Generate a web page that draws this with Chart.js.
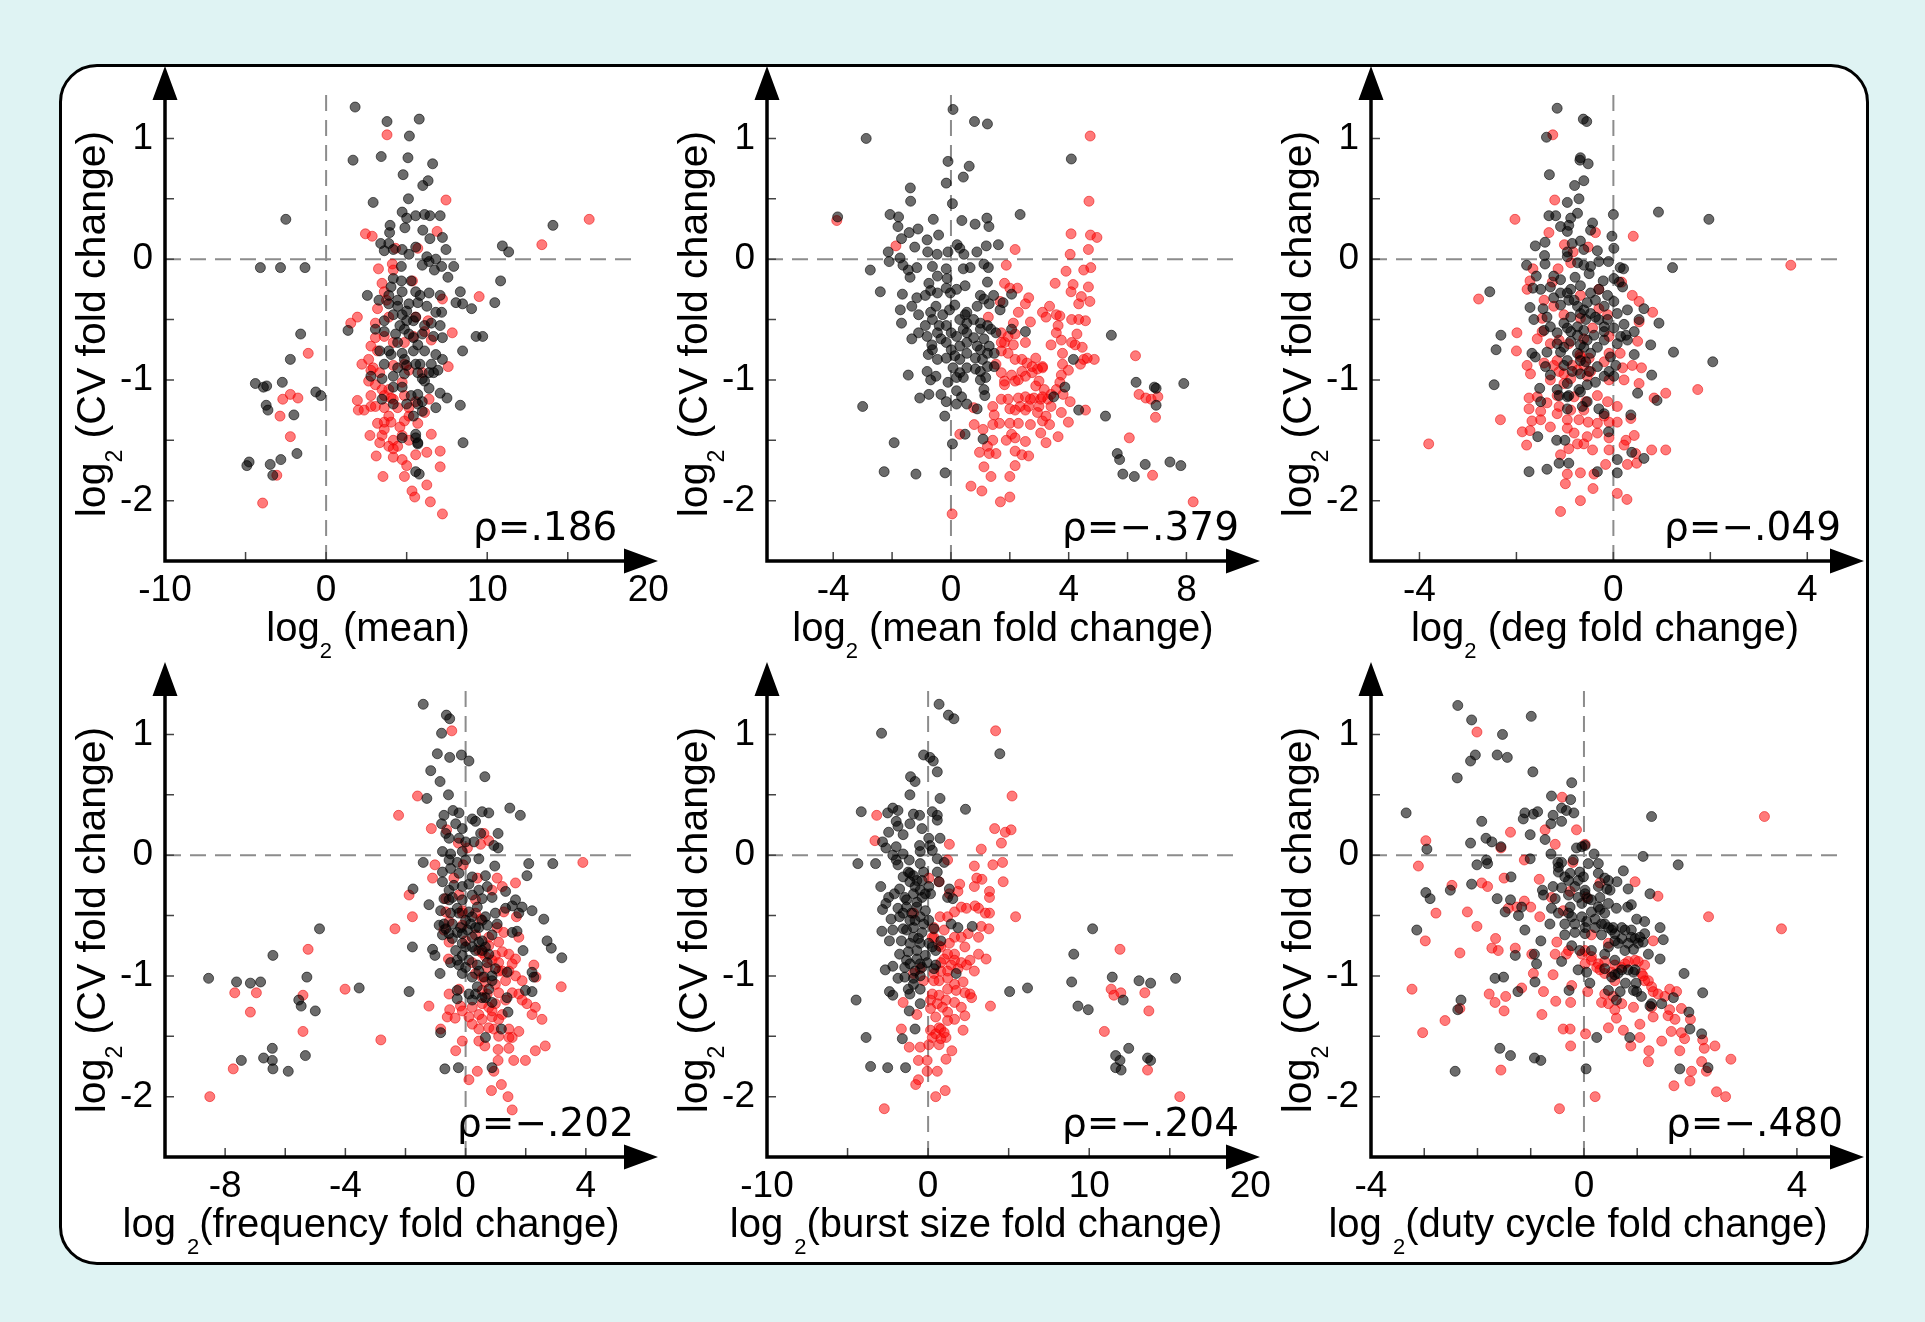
<!DOCTYPE html>
<html>
<head>
<meta charset="utf-8">
<title>CV fold change scatter panels</title>
<script src="https://cdn.jsdelivr.net/npm/chart.js@4.4.1/dist/chart.umd.min.js"></script>
<style>
    html, body { margin: 0; padding: 0; background: #dff3f3; }
    #page { position: relative; width: 1925px; height: 1322px; overflow: hidden; }
    #box { position: absolute; left: 59px; top: 64px; width: 1804px; height: 1195px;
           background: #fff; border: 3px solid #000; border-radius: 38px; }
    canvas { position: absolute; }
</style>
</head>
<body>
<div id="page">
    <div id="box"></div>
    <canvas id="c1" width="640" height="600" style="left:62px;top:60px"></canvas>
    <canvas id="c2" width="640" height="600" style="left:664px;top:60px"></canvas>
    <canvas id="c3" width="640" height="600" style="left:1268px;top:60px"></canvas>
    <canvas id="c4" width="640" height="600" style="left:62px;top:656px"></canvas>
    <canvas id="c5" width="640" height="600" style="left:664px;top:656px"></canvas>
    <canvas id="c6" width="640" height="600" style="left:1268px;top:656px"></canvas>
</div>
<script>
// Tick labels and tick marks
const yTicks = [1, 0, -1, -2];
const yMinor = [1, 0.5, 0, -0.5, -1, -1.5, -2];
const meanTicks = [-10, 0, 10, 20];
const meanMinor = [-5, 0, 5, 10, 15];
const meanFcTicks = [-4, 0, 4, 8];
const meanFcMinor = [-4, -2, 0, 2, 4, 6, 8];
const degTicks = [-4, 0, 4];
const degMinor = [-4, -2, 0, 2, 4];
const freqTicks = [-8, -4, 0, 4];
const freqMinor = [-8, -6, -4, -2, 0, 2, 4];
const burstTicks = [-10, 0, 10, 20];
const burstMinor = [-5, 0, 5, 10, 15];
const dutyTicks = [-4, 0, 4];
const dutyMinor = [-3, -2, -1, 0, 1, 2, 3, 4];

// Spearman correlation labels
const rhoLabels = ['\u03c1=.186', '\u03c1=\u2212.379', '\u03c1=\u2212.049', '\u03c1=\u2212.202', '\u03c1=\u2212.204', '\u03c1=\u2212.480'];

// log2(mean) vs log2(CV fold change)
const meanBlack = [[1.8,1.26],[3.78,1.14],[5.78,1.16],[5.17,1.02],[1.67,0.82],[3.42,0.85],[5.08,0.84],[6.61,0.79],[4.78,0.7],[6.33,0.65],[6,0.61],[5.11,0.5],[2.92,0.47],[-2.5,0.33],[14.08,0.28],[4.72,0.39],[5,0.34],[5.56,0.36],[6.11,0.37],[6.44,0.36],[7.08,0.36],[3.97,0.28],[3.94,0.22],[4.89,0.26],[6,0.24],[6.44,0.17],[7.22,0.18],[7.44,0.08],[3.39,0.13],[3.89,0.13],[3.61,0.07],[4.17,0.08],[4.72,0.08],[5.14,0.04],[5.56,0.1],[6.25,0.02],[6.81,0],[7.17,-0.06],[7.92,-0.06],[10.94,0.11],[11.33,0.06],[-4.08,-0.07],[-2.83,-0.07],[-1.31,-0.07],[5.97,-0.05],[6.39,-0.02],[6.72,-0.09],[4.67,-0.06],[7.56,-0.15],[10.83,-0.18],[4.17,-0.16],[4.03,-0.23],[4.67,-0.18],[5.28,-0.18],[4.72,-0.27],[5.56,-0.27],[5.83,-0.3],[6.39,-0.28],[7.08,-0.3],[8.33,-0.27],[8.47,-0.37],[8.06,-0.36],[9.03,-0.41],[10.47,-0.36],[2.56,-0.3],[3.28,-0.34],[3.89,-0.37],[4.44,-0.34],[5.14,-0.37],[5.69,-0.36],[6.25,-0.39],[6.81,-0.44],[7.17,-0.44],[4.17,-0.46],[4.72,-0.46],[5,-0.51],[5.56,-0.48],[6.11,-0.55],[6.53,-0.53],[7.08,-0.55],[3.61,-0.51],[1.36,-0.59],[-1.58,-0.62],[-2.22,-0.83],[3.06,-0.58],[3.61,-0.6],[4.31,-0.62],[4.86,-0.58],[5.42,-0.65],[5.97,-0.62],[6.67,-0.64],[7.22,-0.65],[9.31,-0.64],[9.72,-0.64],[8.47,-0.76],[3.33,-0.76],[4.03,-0.79],[4.72,-0.78],[5.42,-0.76],[6.11,-0.76],[6.81,-0.79],[3.61,-0.87],[4.44,-0.9],[5,-0.88],[5.83,-0.87],[6.53,-0.87],[2.78,-0.97],[3.47,-0.99],[4.17,-0.97],[4.86,-0.95],[5.69,-0.94],[5.97,-0.99],[6.67,-0.94],[6.94,-0.92],[-4.39,-1.03],[-3.89,-1.06],[-3.69,-1.05],[-2.72,-1.02],[-0.64,-1.1],[-0.33,-1.13],[4.72,-1.06],[5.69,-1.12],[6.39,-1.07],[7.08,-1.11],[7.5,-1.15],[8.33,-1.21],[3.47,-1.16],[4.17,-1.2],[5,-1.2],[5.97,-1.18],[6.81,-1.23],[-3.72,-1.21],[-3.61,-1.25],[-2,-1.29],[5.42,-1.3],[5.97,-1.26],[4.72,-1.48],[5.56,-1.45],[5.69,-1.53],[8.5,-1.52],[-1.81,-1.61],[-2.81,-1.66],[-3.47,-1.7],[-4.78,-1.68],[-4.92,-1.71],[-3.31,-1.79],[5.56,-1.76],[5.78,-1.78],
    [3.89,-0.3],[4.44,-0.39],[5,-0.43],[5.42,-0.51],[4.58,-0.55],[5.14,-0.62],[5.69,-0.71],[4.44,-0.69],[3.89,-0.76],[4.86,-0.83],[5.56,-0.87],[6.11,-1.01],[6.39,-0.94],[7.22,-0.83],[4.17,-1.06],[5.28,-1.13],[5.69,-1.2],[5.56,-1.48],[5.69,-1.52]];
const meanRed = [[3.78,1.03],[7.44,0.49],[16.33,0.33],[13.39,0.12],[2.44,0.21],[2.86,0.19],[6.89,0.23],[4.31,0.09],[5.69,0.09],[3.25,-0.08],[4.11,-0.04],[4.17,-0.09],[5.36,-0.18],[3.47,-0.2],[3.61,-0.27],[3.75,-0.34],[7.22,-0.33],[9.5,-0.31],[1.94,-0.48],[1.53,-0.53],[3.19,-0.41],[3.06,-0.53],[3.89,-0.48],[5.56,-0.48],[6.33,-0.51],[7.83,-0.61],[-1.11,-0.78],[3.06,-0.65],[3.61,-0.64],[4.17,-0.69],[4.86,-0.69],[5.42,-0.64],[6.11,-0.6],[6.53,-0.67],[2.22,-0.87],[2.64,-0.83],[2.92,-0.9],[3.33,-0.94],[4.17,-0.88],[4.86,-0.87],[5.14,-0.92],[7.58,-0.89],[2.64,-1.01],[3.06,-1.04],[3.89,-1.08],[4.72,-1.02],[5.97,-0.94],[-2.22,-1.12],[-1.75,-1.15],[-2.69,-1.16],[1.94,-1.17],[2.78,-1.13],[3.61,-1.13],[4.17,-1.16],[4.86,-1.13],[5.56,-1.18],[6.39,-1.16],[2,-1.25],[2.36,-1.25],[2.78,-1.22],[3.61,-1.23],[4.44,-1.23],[5.14,-1.23],[6.11,-1.27],[-2.86,-1.3],[3.19,-1.36],[3.61,-1.35],[4.03,-1.35],[4.86,-1.34],[5.14,-1.3],[-2.22,-1.47],[2.72,-1.46],[3.47,-1.46],[4.17,-1.5],[4.72,-1.46],[6.53,-1.45],[3.33,-1.52],[3.89,-1.55],[4.44,-1.55],[7.08,-1.59],[6.25,-1.6],[3.11,-1.63],[4.17,-1.64],[5,-1.71],[5.56,-1.62],[7.08,-1.72],[-3.06,-1.79],[3.53,-1.8],[4.86,-1.8],[6.25,-1.87],[5.33,-1.92],[5.5,-1.97],[6.47,-2.01],[-3.94,-2.02],[7.22,-2.11],
    [3.19,-0.76],[2.78,-0.92],[3.47,-1.08],[4.03,-1.15],[3.06,-1.22],[3.89,-1.3],[4.58,-1.39],[3.61,-1.41],[4.17,-1.57],[5.14,-1.5],[4.72,-1.66],[2.78,-0.72],[5.69,-1.36]];

// log2(mean fold change)
const meanFcBlack = [[0.07,1.24],[0.8,1.14],[1.24,1.12],[-2.88,1],[-0.1,0.81],[0.62,0.77],[0.42,0.68],[-0.16,0.63],[-1.38,0.59],[-1.37,0.48],[0.05,0.46],[4.09,0.83],[2.35,0.37],[-3.85,0.35],[-2.07,0.37],[-1.78,0.35],[-0.6,0.33],[0.37,0.32],[0.82,0.29],[1.22,0.34],[1.29,0.27],[-1.8,0.27],[-1.42,0.22],[-1.12,0.25],[-1.68,0.17],[-0.81,0.16],[-0.42,0.2],[-1.23,0.1],[-2.13,0.06],[-2.1,-0.02],[-1.73,0.01],[-0.79,0.06],[-0.47,0.04],[-0.1,0.06],[0.21,0.12],[0.3,0.09],[0.44,0.04],[0.88,0.06],[1.2,0.11],[1.61,0.12],[-2.74,-0.09],[-1.63,-0.05],[-1.45,-0.09],[-1.16,-0.07],[-0.63,-0.06],[-0.16,-0.08],[0.42,-0.08],[0.65,-0.07],[1.12,-0.04],[1.27,-0.07],[-1.39,-0.15],[-0.46,-0.14],[-0.13,-0.16],[-0.75,-0.2],[1.24,-0.19],[-2.4,-0.27],[-1.65,-0.29],[-1.16,-0.32],[-0.87,-0.3],[-0.69,-0.26],[-0.46,-0.28],[-0.16,-0.24],[-0.02,-0.28],[0.19,-0.25],[0.48,-0.22],[1,-0.3],[1.45,-0.3],[2.06,-0.29],[-1.72,-0.42],[-1.68,-0.53],[-1.33,-0.39],[-1.1,-0.46],[-0.69,-0.44],[-0.51,-0.39],[-0.28,-0.46],[-0.05,-0.42],[0.13,-0.38],[0.48,-0.46],[0.54,-0.53],[0.89,-0.39],[1.12,-0.33],[1.3,-0.37],[1.67,-0.42],[1.77,-0.36],[-1.33,-0.66],[-1.1,-0.61],[-0.81,-0.64],[-0.65,-0.71],[-0.46,-0.61],[-0.34,-0.66],[-0.16,-0.55],[0.01,-0.61],[0.19,-0.64],[0.42,-0.58],[0.54,-0.69],[0.77,-0.65],[1,-0.58],[1.36,-0.58],[1.53,-0.61],[2.06,-0.58],[2.53,-0.6],[-0.77,-0.79],[-0.46,-0.83],[-0.16,-0.82],[0.01,-0.75],[0.13,-0.8],[0.3,-0.83],[0.54,-0.78],[0.83,-0.82],[1,-0.75],[1.24,-0.78],[1.47,-0.78],[-1.45,-0.96],[-0.81,-0.93],[-0.69,-1],[-0.51,-0.97],[-0.1,-1.02],[0.19,-0.98],[0.3,-0.94],[0.54,-0.9],[0.83,-0.91],[1,-1],[1.18,-0.98],[1.47,-0.89],[0.19,-1.09],[0.36,-1.14],[1.12,-1.08],[1.15,-1.13],[-1.06,-1.15],[-0.75,-1.12],[-0.34,-1.12],[-0.16,-1.18],[0.19,-1.2],[0.54,-1.2],[0.89,-1.24],[-3,-1.22],[-0.21,-1.3],[0.48,-1.45],[1.09,-1.49],[0.05,-1.53],[-1.93,-1.52],[-2.27,-1.76],[-1.19,-1.78],[-0.2,-1.77],[5.45,-0.63],[4.16,-0.83],[6.29,-1.02],[6.91,-1.06],[6.97,-1.07],[7.91,-1.03],[3.87,-1.06],[3.49,-1.14],[4.34,-1.25],[5.25,-1.3],[6.97,-1.21],[5.65,-1.61],[5.73,-1.66],[5.84,-1.78],[6.23,-1.8],[6.6,-1.7],[7.44,-1.68],[7.81,-1.71],
    [0.3,-0.5],[0.54,-0.44],[0.77,-0.5],[1,-0.53],[1.24,-0.55],[0.3,-0.72],[0.54,-0.61],[0.89,-0.72],[1.12,-0.66],[1.3,-0.72],[1.07,-0.83],[1.24,-0.89],[1,-0.93],[0.42,-0.98],[0.07,-0.9],[-0.4,-0.55],[-0.63,-0.5],[-0.87,-0.55],[-0.63,-0.75],[-0.16,-0.69]];
const meanFcRed = [[4.73,1.02],[4.69,0.48],[-3.88,0.32],[-1.87,0.11],[4.08,0.21],[4.74,0.2],[4.96,0.18],[4.67,0.08],[4.05,0.04],[2.18,0.08],[1.88,-0.05],[4.75,-0.07],[4.51,-0.09],[3.91,-0.1],[3.54,-0.2],[4.15,-0.21],[4.67,-0.23],[1.82,-0.2],[2,-0.24],[2.26,-0.24],[4.08,-0.27],[4.43,-0.31],[2.64,-0.32],[2.53,-0.37],[4.34,-0.37],[4.72,-0.35],[1.67,-0.35],[3.35,-0.39],[3.11,-0.44],[3.23,-0.48],[3.58,-0.46],[3.7,-0.47],[3.64,-0.55],[4.1,-0.5],[4.34,-0.5],[4.57,-0.51],[2.29,-0.44],[2.7,-0.52],[2.12,-0.53],[1.27,-0.48],[1.71,-0.61],[1.94,-0.64],[2.18,-0.62],[1.82,-0.69],[2.12,-0.71],[2.53,-0.69],[1.71,-0.76],[3.58,-0.61],[3.75,-0.67],[3.4,-0.71],[4.1,-0.69],[4.28,-0.62],[4.22,-0.71],[4.46,-0.73],[3.79,-0.78],[2.18,-0.83],[1.53,-0.87],[2.88,-0.82],[2.58,-0.86],[3.11,-0.89],[2.94,-0.91],[6.27,-0.8],[4.51,-0.83],[4.87,-0.83],[4.63,-0.82],[4.4,-0.87],[3.79,-0.87],[3.99,-0.92],[1.71,-0.94],[2.06,-0.96],[2.41,-0.93],[2.53,-0.97],[2.76,-0.94],[3.11,-0.9],[3.75,-0.96],[1.82,-1.01],[1.82,-1.04],[2.18,-1.01],[2.29,-1],[2.99,-1.01],[3.7,-1.02],[3.58,-1.08],[3.17,-1.08],[3.4,-1.12],[3.81,-1.12],[2.53,-1.14],[2.29,-1.15],[2.82,-1.15],[3.05,-1.16],[3.29,-1.16],[2.64,-1.22],[1.71,-1.16],[1.94,-1.16],[4.05,-1.18],[6.39,-1.12],[6.62,-1.15],[6.8,-1.16],[7.03,-1.14],[1.42,-1.22],[2,-1.24],[2.35,-1.22],[2.53,-1.25],[2.99,-1.22],[1.47,-1.29],[0.77,-1.23],[1.65,-1.36],[1.42,-1.37],[2,-1.36],[2.29,-1.36],[2.7,-1.37],[3.11,-1.34],[3.35,-1.37],[3.75,-1.27],[3.99,-1.35],[4.57,-1.25],[6.95,-1.31],[0.79,-1.37],[1.09,-1.41],[0.3,-1.45],[1.42,-1.5],[1.24,-1.55],[1.88,-1.5],[2.06,-1.45],[2.18,-1.48],[2.53,-1.51],[3.05,-1.44],[3.23,-1.52],[3.64,-1.47],[6.06,-1.48],[0.97,-1.6],[1.3,-1.61],[1.53,-1.61],[2.18,-1.59],[2.41,-1.62],[2.64,-1.63],[1.12,-1.72],[2.18,-1.71],[1.36,-1.8],[2,-1.8],[6.85,-1.79],[0.68,-1.88],[1.05,-1.92],[1.68,-2.01],[2,-1.97],[0.04,-2.11],[8.23,-2.01],
    [1.71,-0.69],[1.94,-0.78],[2.41,-0.83],[2.76,-0.89],[2.88,-1.05],[3.11,-1.14],[2.7,-1.16],[2.94,-1.27],[3.23,-1.3],[3.4,-1.22],[2.18,-1.25]];

// log2(deg fold change)
const degBlack = [[-1.16,1.25],[-0.62,1.16],[-0.55,1.14],[-1.38,1.01],[-0.68,0.84],[-0.69,0.82],[-0.52,0.79],[-1.32,0.7],[-0.61,0.65],[-0.8,0.61],[-0.71,0.5],[-0.95,0.47],[0.93,0.39],[1.97,0.33],[0,0.37],[-1.33,0.36],[-1.19,0.36],[-0.88,0.34],[-0.74,0.38],[-1.09,0.27],[-0.92,0.28],[-0.95,0.23],[-0.43,0.3],[-0.47,0.24],[-0.03,0.19],[-1.61,0.11],[-1.41,0.14],[-0.85,0.13],[-0.68,0.15],[-0.61,0.08],[0.01,0.09],[-1.42,0.03],[-0.95,0.06],[-0.33,0.07],[-1.79,-0.05],[-1.41,-0.04],[-0.95,0.02],[-0.74,-0.03],[-0.61,-0.05],[-0.47,-0.06],[-0.3,-0.02],[-0.1,-0.02],[0.14,-0.07],[0.21,-0.08],[1.22,-0.07],[-2.55,-0.27],[-1.59,-0.14],[-1.23,-0.14],[-1.09,-0.17],[-0.79,-0.15],[-0.5,-0.12],[-0.21,-0.18],[0.01,-0.16],[0.12,-0.19],[-1.66,-0.24],[-1.5,-0.25],[-1.3,-0.23],[-1.09,-0.28],[-0.88,-0.25],[-0.68,-0.22],[-0.47,-0.28],[-0.3,-0.25],[-0.12,-0.3],[0.19,-0.23],[-1.72,-0.4],[-1.45,-0.41],[-1.23,-0.32],[-1.09,-0.38],[-0.92,-0.34],[-0.74,-0.39],[-0.54,-0.36],[-0.37,-0.34],[-0.19,-0.39],[0.01,-0.35],[0.08,-0.45],[0.29,-0.42],[0.63,-0.41],[-1.64,-0.5],[-1.37,-0.48],[-1.3,-0.56],[-1.02,-0.53],[-0.88,-0.48],[-0.68,-0.45],[-0.57,-0.5],[-0.37,-0.48],[-0.12,-0.5],[0.22,-0.54],[0.53,-0.5],[0.94,-0.53],[-2.32,-0.63],[-2.42,-0.75],[-1.43,-0.59],[-1.16,-0.61],[-0.95,-0.57],[-0.74,-0.63],[-0.61,-0.59],[-0.4,-0.63],[-0.19,-0.6],[0.01,-0.57],[0.26,-0.63],[0.43,-0.6],[0.77,-0.71],[1.24,-0.77],[2.05,-0.85],[-1.68,-0.78],[-1.61,-0.81],[-1.37,-0.77],[-1.02,-0.73],[-0.88,-0.68],[-0.68,-0.71],[-0.54,-0.67],[-0.33,-0.73],[-0.19,-0.67],[0.08,-0.7],[0.29,-0.67],[0.43,-0.79],[-1.4,-0.89],[-1.3,-0.96],[-1.02,-0.88],[-0.85,-0.93],[-0.68,-0.84],[-0.5,-0.93],[-0.33,-0.89],[-0.09,-0.93],[0.05,-0.88],[0.79,-0.96],[-2.46,-1.04],[-1.52,-1.07],[-1.16,-1.08],[-0.95,-1.03],[-0.71,-1.08],[-0.54,-1.04],[-0.37,-1.02],[0.01,-0.97],[0.5,-1.11],[0.9,-1.17],[-1.5,-1.18],[-1.12,-1.13],[-0.92,-1.13],[-0.68,-1.1],[-0.54,-1.18],[-0.95,-1.24],[-0.3,-1.24],[-0.19,-1.28],[0.36,-1.29],[-0.1,-1.43],[-1.56,-1.47],[-1.17,-1.5],[-1,-1.5],[0.38,-1.6],[0.63,-1.65],[0.08,-1.66],[-1.12,-1.69],[-0.92,-1.69],[-1.74,-1.76],[-1.37,-1.74],[-0.33,-1.76],[0.08,-1.77],
    [-0.95,-0.28],[-0.81,-0.34],[-0.61,-0.42],[-0.47,-0.45],[-0.3,-0.5],[-0.19,-0.56],[-0.74,-0.56],[-0.88,-0.6],[-0.61,-0.73],[-0.47,-0.78],[-0.57,-0.85],[-0.74,-0.78],[-0.95,-0.84],[-1.09,-0.77],[-1.16,-0.7],[-0.68,-0.95],[-0.19,-0.97],[-0.06,-0.81],[0.15,-0.64],[-0.95,-1.14],[-0.64,-1.22]];
const degRed = [[-1.25,1.03],[-1.21,0.49],[-2.03,0.33],[0.41,0.19],[-1.33,0.22],[-0.37,0.22],[-1.01,0.12],[-0.52,0.1],[-0.83,0.06],[-0.88,-0.03],[3.66,-0.05],[-1.66,-0.08],[-1.14,-0.08],[-1.72,-0.18],[-1.78,-0.25],[-1.26,-0.19],[0.17,-0.19],[-2.78,-0.33],[-0.3,-0.25],[0.39,-0.3],[0.53,-0.35],[-1.43,-0.34],[-1.23,-0.39],[-0.68,-0.3],[0.81,-0.44],[0.53,-0.52],[-1.47,-0.49],[-1.02,-0.46],[-0.68,-0.49],[-0.3,-0.41],[-0.12,-0.46],[-1.99,-0.61],[-2,-0.76],[-1.57,-0.66],[-1.47,-0.6],[-1.3,-0.7],[-1.12,-0.67],[-0.92,-0.7],[-0.61,-0.66],[-0.43,-0.57],[-0.09,-0.64],[0.5,-0.68],[-0.09,-0.78],[0.14,-0.78],[-0.69,-0.79],[-0.5,-0.82],[-1.71,-0.95],[-1.78,-0.88],[-1.43,-0.86],[-1.23,-0.88],[-1.12,-0.93],[-0.85,-0.88],[-0.68,-0.81],[-0.47,-0.93],[-0.19,-0.85],[0.19,-0.9],[0.39,-0.88],[0.58,-0.9],[-1.3,-1],[-1.02,-1.03],[-0.88,-0.99],[-0.54,-0.97],[-0.09,-1],[0.22,-1],[0.53,-1.03],[1.08,-1.11],[1.74,-1.08],[-1.74,-1.15],[-1.57,-1.14],[-1.37,-1.19],[-1.16,-1.13],[-0.81,-1.14],[-0.57,-1.18],[-0.33,-1.13],[-0.12,-1.18],[0.84,-1.15],[-1.74,-1.24],[-1.5,-1.26],[-1.12,-1.22],[-0.88,-1.25],[-0.61,-1.25],[0.08,-1.22],[0.36,-1.32],[-2.33,-1.33],[-1.68,-1.34],[-1.5,-1.33],[-0.95,-1.33],[-0.71,-1.33],[-0.52,-1.35],[-0.09,-1.35],[0.08,-1.35],[-1.88,-1.43],[-1.72,-1.42],[-0.95,-1.4],[-0.81,-1.44],[-0.54,-1.47],[-0.33,-1.44],[-0.09,-1.48],[0.26,-1.5],[0.43,-1.46],[-3.81,-1.53],[-1.79,-1.54],[-0.61,-1.53],[-0.92,-1.57],[-1.09,-1.62],[-0.43,-1.58],[-0.09,-1.58],[0.22,-1.54],[0.46,-1.61],[0.79,-1.58],[1.08,-1.58],[-0.16,-1.7],[0.29,-1.7],[0.48,-1.69],[-0.95,-1.78],[-0.68,-1.77],[-0.4,-1.78],[-0.99,-1.86],[-0.42,-1.9],[0.08,-1.94],[0.28,-1.99],[-0.68,-2],[-1.09,-2.09],
    [-1.16,-0.84],[-1.02,-0.95],[-0.74,-0.92],[-0.61,-0.88],[-1.16,-1.28],[-0.19,-1.3],[-0.33,-1.36],[-1.3,-1.39],[-0.74,-1.53]];

// log2(frequency fold change)
const freqBlack = [[-1.41,1.25],[-0.64,1.16],[-0.53,1.13],[-0.8,1.01],[-0.94,0.84],[-0.53,0.81],[-0.14,0.83],[0.11,0.78],[-1.16,0.7],[0.64,0.65],[-0.85,0.61],[-1.29,0.47],[-0.57,0.5],[1.47,0.39],[1.82,0.33],[-0.72,0.33],[-0.42,0.37],[-0.22,0.35],[0.55,0.36],[0.77,0.35],[0.22,0.3],[0.33,0.28],[-0.8,0.26],[-0.33,0.26],[-0.11,0.22],[-0.66,0.18],[1.08,0.18],[-0.55,0.14],[-0.22,0.14],[0,0.11],[0.28,0.11],[0.5,0.18],[0.94,0.08],[1.08,0.06],[-0.77,0.03],[-0.5,0.01],[-0.11,0.03],[-1.41,-0.06],[-0.55,-0.04],[-0.28,-0.06],[0,-0.04],[0.44,-0.03],[0.97,-0.09],[2.1,-0.07],[2.9,-0.07],[2.04,-0.17],[-0.77,-0.14],[-0.5,-0.11],[-0.22,-0.15],[0.22,-0.18],[0.66,-0.17],[-1.75,-0.28],[-0.77,-0.22],[-0.55,-0.29],[-0.39,-0.25],[-0.11,-0.26],[0.11,-0.24],[0.44,-0.29],[0.72,-0.26],[-1.22,-0.41],[-0.72,-0.36],[-0.44,-0.35],[-0.11,-0.37],[0.22,-0.33],[0.55,-0.36],[0.88,-0.35],[1.33,-0.3],[1.66,-0.37],[1.88,-0.43],[2.21,-0.46],[2.6,-0.53],[-0.83,-0.46],[-0.5,-0.48],[-0.28,-0.44],[0.11,-0.47],[0.39,-0.43],[0.66,-0.51],[0.99,-0.48],[1.33,-0.44],[1.55,-0.42],[1.77,-0.48],[-4.86,-0.61],[-0.88,-0.58],[-0.66,-0.61],[-0.44,-0.57],[-0.17,-0.6],[0.17,-0.57],[0.44,-0.6],[0.72,-0.58],[1.05,-0.57],[1.55,-0.64],[1.71,-0.63],[-0.77,-0.66],[-0.44,-0.69],[-0.11,-0.65],[0.22,-0.68],[0.55,-0.71],[0.88,-0.66],[2.71,-0.71],[2.85,-0.77],[-1.77,-0.76],[-1.1,-0.78],[-1.02,-0.83],[-0.33,-0.79],[0,-0.76],[0.33,-0.79],[0.66,-0.76],[1.91,-0.79],[3.2,-0.85],[-6.41,-0.83],[-0.5,-0.89],[-0.22,-0.91],[0.11,-0.87],[0.39,-0.91],[0.72,-0.89],[0.99,-0.94],[1.38,-0.97],[-0.85,-0.98],[-0.11,-0.98],[0.22,-1.01],[0.88,-1],[2.21,-0.97],[2.27,-1.01],[-8.55,-1.02],[-7.62,-1.05],[-7.16,-1.06],[-6.82,-1.05],[-5.28,-1.01],[-3.54,-1.1],[-1.88,-1.13],[-0.28,-1.12],[0.11,-1.15],[0.39,-1.09],[0.77,-1.11],[1.99,-1.12],[2.21,-1.13],[1.38,-1.18],[-0.28,-1.19],[0.22,-1.2],[0.55,-1.18],[0.88,-1.22],[-5.55,-1.2],[-5.47,-1.25],[-5,-1.29],[1.41,-1.3],[-0.83,-1.47],[1.19,-1.44],[0.66,-1.51],[-6.43,-1.6],[-6.72,-1.68],[-6.43,-1.7],[-7.46,-1.7],[-6.41,-1.77],[-5.9,-1.79],[-5.33,-1.66],[-0.69,-1.77],[-0.24,-1.76],[0.88,-1.76],
    [-0.55,-0.37],[-0.22,-0.48],[0,-0.54],[0.22,-0.51],[0.55,-0.54],[0.33,-0.6],[0.06,-0.62],[-0.28,-0.64],[-0.55,-0.65],[-0.72,-0.57],[-0.11,-0.73],[0.22,-0.76],[0.44,-0.72],[0.55,-0.79],[0.77,-0.82],[-0.11,-0.83],[-0.28,-0.87],[0,-0.93],[0.44,-0.96],[0.61,-1.01],[0.88,-1.04],[0.33,-1.15],[0.66,-1.18]];
const freqRed = [[-0.46,1.03],[-1.6,0.49],[-2.23,0.33],[-1.14,0.22],[-0.63,0.21],[0.61,0.18],[0.77,0.12],[-0.24,0.1],[0.5,0.09],[0.06,0.06],[3.9,-0.06],[-1.02,-0.08],[-0.08,-0.08],[-1.1,-0.19],[1.05,-0.19],[1.66,-0.23],[-0.39,-0.19],[0.39,-0.19],[-1.88,-0.33],[1.22,-0.26],[0.88,-0.29],[-0.66,-0.36],[-0.22,-0.33],[0.33,-0.37],[-1.77,-0.51],[-2.35,-0.61],[-0.66,-0.47],[-0.11,-0.48],[0.5,-0.53],[1.27,-0.47],[1.69,-0.51],[-0.72,-0.62],[-0.11,-0.58],[0.33,-0.66],[0.77,-0.68],[1.05,-0.6],[1.27,-0.64],[1.77,-0.68],[-0.55,-0.72],[0,-0.71],[0.77,-0.75],[1.1,-0.72],[-5.24,-0.78],[0.55,-0.81],[0.99,-0.83],[1.22,-0.8],[1.44,-0.82],[1.66,-0.86],[-0.57,-0.86],[0.22,-0.89],[0.72,-0.93],[1.1,-0.89],[1.55,-0.9],[2.27,-0.91],[0.33,-0.98],[0.55,-1.01],[1.22,-0.96],[1.66,-1],[2.34,-1.01],[0.66,-1.05],[0.99,-1.07],[1.88,-1.04],[3.18,-1.09],[-4.01,-1.11],[-7.68,-1.14],[-6.96,-1.14],[-5.41,-1.16],[-0.55,-1.15],[-0.22,-1.11],[0.55,-1.12],[1.1,-1.14],[1.55,-1.14],[1.77,-1.15],[1.33,-1.2],[1.88,-1.2],[2.04,-1.23],[-1.22,-1.25],[-0.17,-1.25],[0.22,-1.26],[0.99,-1.23],[2.32,-1.26],[-7.16,-1.3],[-0.53,-1.28],[-0.11,-1.29],[2.21,-1.32],[-0.61,-1.34],[-0.35,-1.35],[0.11,-1.34],[0.55,-1.36],[0.88,-1.34],[1.1,-1.36],[2.54,-1.36],[0.22,-1.4],[0.44,-1.44],[0.94,-1.44],[1.44,-1.44],[1.77,-1.46],[-0.83,-1.44],[-5.41,-1.46],[-0.11,-1.54],[0.44,-1.54],[1.1,-1.5],[1.55,-1.51],[0.64,-1.58],[1.44,-1.6],[2.65,-1.58],[-2.82,-1.53],[-0.33,-1.62],[1.08,-1.61],[2.32,-1.62],[1.6,-1.7],[1.99,-1.7],[1.08,-1.7],[-7.73,-1.77],[0.39,-1.79],[0.94,-1.79],[0.11,-1.86],[1.19,-1.9],[0.86,-1.95],[1.41,-2],[-8.51,-2],[1.55,-2.11],
    [0.44,-0.79],[0.66,-0.84],[0.88,-0.87],[1.1,-0.96],[1.44,-0.96],[1.33,-1.04],[0.72,-1.15],[0.77,-1.26],[0.88,-1.29],[0.55,-1.23],[0.44,-1.32],[1.22,-1.32],[1.44,-1.51],[0.77,-1.43],[-0.11,-0.46],[0.33,-0.48],[-0.55,-0.55]];

// log2(burst size fold change)
const burstBlack = [[0.68,1.25],[1.26,1.16],[1.6,1.13],[-2.89,1.01],[4.45,0.84],[-0.28,0.83],[0.11,0.81],[0.32,0.78],[0.57,0.69],[-1.09,0.65],[-0.81,0.61],[-1.13,0.5],[0.74,0.47],[2.32,0.38],[-4.15,0.36],[-2.51,0.35],[-2.19,0.39],[-1.87,0.37],[-0.91,0.34],[-0.53,0.33],[0.26,0.36],[0.57,0.33],[0.57,0.29],[-1.98,0.28],[-1.87,0.24],[-1.13,0.26],[-0.38,0.22],[-2.45,0.19],[-1.55,0.17],[0.04,0.14],[0.74,0.14],[-2.83,0.11],[-2.62,0.06],[-1.98,0.07],[-0.53,0.08],[0.11,0.08],[0.26,0.04],[-2.19,0],[-1.55,0.01],[-0.49,0.03],[-4.36,-0.07],[-3.26,-0.07],[-1.98,-0.04],[-1.87,-0.08],[-1.17,-0.04],[-0.49,-0.07],[0.57,-0.03],[1,-0.06],[-1.23,-0.14],[-0.91,-0.17],[-0.28,-0.14],[0.57,-0.14],[-2.94,-0.26],[-1.77,-0.28],[-1.13,-0.22],[-0.81,-0.26],[-0.38,-0.21],[0.04,-0.26],[0.68,-0.22],[1.32,-0.28],[-2.45,-0.35],[-2.09,-0.32],[-1.45,-0.35],[-0.91,-0.32],[-0.38,-0.35],[0.15,-0.32],[1.21,-0.35],[1.53,-0.36],[-2.83,-0.45],[-2.62,-0.4],[-1.87,-0.44],[-1.34,-0.43],[-1.02,-0.48],[-0.7,-0.43],[-0.17,-0.46],[-2.3,-0.53],[-1.77,-0.51],[-1.13,-0.54],[-0.49,-0.51],[0.04,-0.54],[-2.87,-0.63],[-2.19,-0.62],[-1.55,-0.61],[-0.91,-0.6],[-0.38,-0.64],[0.36,-0.61],[1.43,-0.57],[1.85,-0.6],[2.74,-0.59],[10.21,-0.61],[-2.4,-0.71],[-1.66,-0.71],[-1.13,-0.73],[-0.6,-0.69],[0.04,-0.73],[0.79,-0.71],[-1.77,-0.82],[-1.23,-0.8],[-0.7,-0.79],[-0.17,-0.83],[0.47,-0.79],[9.04,-0.82],[-2.66,-0.95],[-2.19,-0.92],[-1.45,-0.93],[-1.13,-0.9],[-0.81,-0.96],[-0.38,-0.93],[0.47,-0.91],[1.74,-0.98],[-1.45,-1.01],[-0.91,-1.02],[-0.49,-1],[8.91,-1.05],[11.43,-1.01],[13.09,-1.04],[13.81,-1.06],[15.36,-1.02],[6.17,-1.1],[5.06,-1.13],[-1.23,-1.11],[-0.49,-1.11],[-2.4,-1.13],[-2.19,-1.16],[-1.13,-1.15],[-4.47,-1.2],[12.11,-1.2],[9.3,-1.25],[9.94,-1.28],[-0.49,-1.23],[-1.17,-1.29],[-0.81,-1.44],[-3.85,-1.51],[-1.6,-1.52],[12.45,-1.6],[11.64,-1.66],[11.91,-1.7],[13.62,-1.68],[13.81,-1.7],[11.64,-1.76],[11.98,-1.78],[-3.57,-1.75],[-2.51,-1.76],[-1.4,-1.76],
    [-1.55,-0.18],[-1.13,-0.15],[-0.7,-0.21],[-0.49,-0.29],[-0.17,-0.32],[-1.34,-0.37],[-0.7,-0.39],[-1.55,-0.48],[-0.81,-0.54],[-0.28,-0.57],[-1.34,-0.62],[-0.91,-0.68],[-0.49,-0.73],[0.26,-0.76],[-1.34,-0.87],[-0.7,-0.86],[-0.06,-0.89],[0.36,-0.94],[-0.49,-0.9],[-1.87,-1.02],[-0.91,-1.07]];
const burstRed = [[4.19,1.03],[5.21,0.49],[-3.19,0.33],[-3.3,0.12],[4.13,0.22],[4.79,0.19],[5.15,0.21],[4.55,0.1],[1.32,0.09],[3.3,0.05],[1.21,-0.04],[4.62,-0.06],[4.02,-0.08],[2.87,-0.09],[0.04,-0.19],[0.68,-0.22],[1.96,-0.24],[3.02,-0.19],[3.34,-0.2],[4.66,-0.22],[2.87,-0.26],[3.81,-0.3],[1.32,-0.32],[1.85,-0.3],[3.81,-0.35],[2.06,-0.43],[2.38,-0.44],[2.91,-0.42],[3.13,-0.44],[-0.91,-0.48],[0.74,-0.51],[1.21,-0.51],[1.64,-0.47],[3.55,-0.48],[3.81,-0.48],[5.43,-0.51],[0.36,-0.6],[1,-0.62],[1.64,-0.68],[2.06,-0.68],[2.49,-0.65],[3.3,-0.59],[3.77,-0.61],[0.26,-0.68],[3.13,-0.68],[11.91,-0.78],[0.68,-0.75],[1.32,-0.73],[2.28,-0.76],[3.13,-0.82],[3.6,-0.86],[1.64,-0.82],[1,-0.86],[2.06,-0.89],[2.6,-0.87],[-0.91,-0.98],[-0.49,-0.94],[0.36,-0.98],[0.79,-0.96],[1.43,-0.91],[1.85,-0.94],[2.38,-0.91],[2.87,-0.96],[0.68,-1.04],[1.21,-1.02],[1.64,-1.07],[2.17,-1.05],[1.21,-1.11],[1.74,-1.12],[2.28,-1.14],[2.6,-1.15],[0.26,-1.15],[0.68,-1.16],[11.36,-1.11],[11.53,-1.16],[11.96,-1.14],[13.45,-1.14],[-1.55,-1.22],[0.15,-1.2],[0.57,-1.23],[1.11,-1.2],[1.64,-1.22],[2.06,-1.26],[2.7,-1.18],[3.87,-1.25],[-0.7,-1.32],[0.15,-1.27],[0.47,-1.34],[1.21,-1.3],[1.64,-1.36],[2.28,-1.33],[13.7,-1.29],[-1.66,-1.44],[0.15,-1.45],[0.47,-1.48],[0.79,-1.44],[1.11,-1.51],[2.17,-1.45],[10.94,-1.46],[-1.17,-1.59],[-0.49,-1.59],[0.04,-1.57],[0.68,-1.57],[1.47,-1.62],[-0.6,-1.7],[-0.06,-1.7],[1.11,-1.69],[13.62,-1.78],[-0.06,-1.79],[0.57,-1.79],[-0.6,-1.86],[-0.77,-1.9],[1.06,-1.95],[0.47,-2],[15.62,-2],[-2.72,-2.1],
    [0.36,-0.68],[0.79,-0.76],[1.21,-0.82],[1.64,-0.87],[0.79,-0.89],[1.21,-0.96],[0.36,-1.04],[0.89,-1.26],[1.21,-1.37],[0.68,-1.43],[0.26,-1.51],[0.79,-1.52],[1,-1.47],[-0.28,-1.04]];

// log2(duty cycle fold change)
const dutyBlack = [[-2.37,1.24],[-0.99,1.15],[-2.11,1.12],[-1.53,1],[-2.04,0.83],[-2.13,0.78],[-1.63,0.83],[-1.44,0.81],[-0.96,0.69],[-2.38,0.64],[-0.23,0.6],[-0.61,0.49],[-0.25,0.46],[-3.34,0.35],[-1.11,0.35],[-0.87,0.36],[-1.14,0.3],[-0.95,0.34],[-0.58,0.33],[-0.42,0.39],[-0.33,0.37],[-0.19,0.35],[1.27,0.32],[-1.92,0.28],[-0.62,0.26],[-0.42,0.28],[-1.01,0.17],[-0.73,0.13],[-1.84,0.14],[-1.73,0.11],[-2.13,0.1],[-1.56,0.07],[-2.95,0.05],[-0.14,0.06],[-0.04,0.07],[0.02,0.08],[0.19,0.01],[1.11,-0.01],[-0.62,0.01],[-1.01,-0.03],[1.77,-0.08],[-1.83,-0.04],[-1.81,-0.07],[-2.01,-0.08],[-0.49,-0.06],[-0.42,-0.06],[-0.2,-0.04],[0.08,-0.07],[0.27,-0.07],[-0.48,-0.14],[-0.26,-0.15],[-0.08,-0.14],[0.74,-0.13],[-1.37,-0.18],[-0.29,-0.21],[-0.01,-0.18],[0.27,-0.15],[0.39,-0.19],[0.46,-0.21],[0.62,-0.22],[-2.11,-0.24],[-2.51,-0.29],[-2.97,-0.31],[-2.89,-0.36],[-0.78,-0.29],[-0.58,-0.26],[-0.42,-0.27],[-0.17,-0.26],[0.02,-0.29],[0.27,-0.26],[0.43,-0.28],[0.83,-0.28],[1.24,-0.32],[-1.63,-0.36],[-1.38,-0.37],[-0.76,-0.33],[-0.54,-0.36],[-0.29,-0.33],[-0.11,-0.35],[0.08,-0.36],[0.3,-0.35],[0.49,-0.29],[-1.48,-0.47],[-1.17,-0.43],[-1.23,-0.5],[-0.61,-0.44],[-0.48,-0.48],[-0.26,-0.43],[-0.04,-0.4],[0.14,-0.47],[0.3,-0.45],[0.46,-0.4],[0.61,-0.44],[0.82,-0.43],[0.89,-0.41],[-3.14,-0.62],[-1.11,-0.62],[-0.64,-0.57],[-0.36,-0.57],[-0.23,-0.51],[-0.04,-0.51],[0.05,-0.55],[0.21,-0.53],[0.39,-0.57],[0.55,-0.6],[0.77,-0.62],[0.99,-0.53],[1.14,-0.55],[1.43,-0.6],[-0.36,-0.66],[-0.17,-0.64],[0.02,-0.65],[0.33,-0.66],[0.52,-0.62],[0.71,-0.69],[0.89,-0.62],[1.05,-0.68],[1.14,-0.65],[1.49,-0.7],[-0.81,-0.71],[-0.23,-0.75],[0.58,-0.71],[0.83,-0.73],[0.96,-0.69],[1.11,-0.72],[-0.08,-0.79],[0.14,-0.79],[0.46,-0.76],[0.93,-0.78],[1.21,-0.82],[-1.29,-0.83],[-0.93,-0.82],[-0.42,-0.88],[1.43,-0.86],[-0.89,-0.9],[0.39,-0.94],[0.58,-0.99],[0.71,-0.95],[0.93,-0.97],[-0.11,-0.95],[0.05,-0.97],[1.88,-0.98],[-1.67,-1.02],[-1.51,-1.01],[-0.92,-1.05],[0.11,-1.06],[0.78,-1.06],[0.98,-1.06],[-0.28,-1.12],[0.46,-1.12],[0.68,-1.13],[0.99,-1.13],[-1.24,-1.13],[2.23,-1.14],[-2.31,-1.2],[-2.37,-1.28],[0.61,-1.2],[1.24,-1.25],[1.46,-1.23],[1.68,-1.18],[1.97,-1.3],[1.99,-1.44],[2.21,-1.48],[0.24,-1.51],[0.86,-1.51],[-1.58,-1.6],[-1.38,-1.66],[-0.93,-1.68],[-0.81,-1.7],[0.04,-1.77],[-2.42,-1.79],[1.8,-1.77],[2.33,-1.76],
    [-0.48,-0.1],[-0.36,-0.18],[-0.11,-0.21],[0.02,-0.32],[0.14,-0.37],[0.27,-0.43],[0.39,-0.48],[-0.29,-0.48],[-0.17,-0.57],[0.02,-0.6],[0.21,-0.6],[0.33,-0.57],[0.46,-0.6],[0.58,-0.65],[0.71,-0.6],[0.89,-0.68],[1.02,-0.73],[0.64,-0.73],[0.77,-0.79],[0.39,-0.82],[0.58,-0.87],[0.83,-0.95],[0.96,-0.95],[0.64,-0.98],[0.52,-1.01],[0.93,-1.12],[1.08,-1.17],[1.27,-1.23]];
const dutyRed = [[-2.01,1.02],[-0.41,0.48],[3.39,0.32],[-1.38,0.19],[-0.73,0.21],[-0.14,0.21],[-0.54,0.09],[-2.97,0.12],[-1.56,0.06],[0.02,0.09],[-3.11,-0.09],[-1.12,-0.04],[-0.21,-0.06],[-1.5,-0.19],[-0.84,-0.2],[0.96,-0.22],[-2.48,-0.25],[-1.92,-0.23],[-1.81,-0.26],[-0.26,-0.3],[0.05,-0.35],[0.3,-0.23],[1.39,-0.34],[-0.61,-0.35],[-1.12,-0.38],[-1,-0.43],[-1.26,-0.43],[-1.42,-0.44],[-2.78,-0.48],[-2.19,-0.47],[-0.83,-0.51],[-0.39,-0.46],[2.34,-0.51],[3.71,-0.61],[-2.01,-0.59],[-2.98,-0.71],[-1.66,-0.69],[-0.51,-0.72],[0.14,-0.66],[0.46,-0.73],[1.3,-0.71],[-2.33,-0.81],[-1.73,-0.77],[-1.61,-0.79],[-1.29,-0.77],[-0.98,-0.82],[-0.54,-0.82],[-0.33,-0.82],[-0.04,-0.82],[0.14,-0.87],[0.27,-0.9],[0.39,-0.88],[0.58,-0.91],[0.77,-0.9],[1.02,-0.88],[1.14,-0.91],[0.02,-0.9],[-0.95,-0.98],[-0.58,-0.99],[0.3,-0.95],[0.52,-0.97],[1.11,-1],[1.21,-1.04],[-0.23,-1.08],[-3.23,-1.11],[-1.17,-1.1],[-0.76,-1.13],[0.07,-1.13],[0.39,-1.15],[1.3,-1.13],[1.61,-1.11],[1.74,-1.13],[-1.78,-1.15],[-1.47,-1.17],[-0.53,-1.21],[-0.25,-1.22],[0.33,-1.22],[0.55,-1.17],[-1.67,-1.22],[-2.33,-1.27],[0.58,-1.28],[0.93,-1.26],[1.27,-1.26],[1.61,-1.28],[1.83,-1.27],[-1.5,-1.29],[-0.79,-1.32],[0.61,-1.35],[1.05,-1.4],[1.3,-1.34],[1.58,-1.33],[1.71,-1.36],[2,-1.36],[-2.61,-1.37],[-3.03,-1.47],[-0.39,-1.44],[-0.26,-1.44],[0.03,-1.48],[0.46,-1.43],[0.74,-1.45],[1.05,-1.51],[1.46,-1.54],[1.64,-1.46],[1.83,-1.47],[1.89,-1.52],[2.23,-1.53],[-0.25,-1.58],[0.88,-1.58],[1.8,-1.62],[2.26,-1.6],[2.46,-1.58],[1.22,-1.62],[2.76,-1.69],[1.21,-1.71],[2.21,-1.71],[-1.56,-1.78],[2.02,-1.79],[2.3,-1.79],[1.69,-1.91],[1.99,-1.87],[2.49,-1.96],[2.66,-2],[0.21,-2],[-0.46,-2.1],
    [0.14,-0.84],[0.24,-0.93],[0.39,-0.98],[0.58,-1.04],[0.71,-0.93],[0.83,-0.88],[0.96,-0.87],[1.08,-0.98],[1.14,-1.04],[1.27,-1.09],[1.39,-1.15],[1.52,-1.17],[0.46,-1.23],[0.71,-1.23],[0.02,-0.79],[-0.29,-0.79]];

const SANS = '"Liberation Sans", Arial, sans-serif';
const RHO_FONT = '"DejaVu Sans", sans-serif';
// title pieces: [text, isSubscript]
const yTitle = [['log', false], ['2', true], [' (CV fold change)', false]];

const panels = [
    { id: 'c1', black: meanBlack, red: meanRed, xMin: -10, xMax: 20.6, ticks: meanTicks, minor: meanMinor,
      title: [['log', false], ['2', true], [' (mean)', false]], titleDx: 203, rho: rhoLabels[0], rhoDx: 308 },
    { id: 'c2', black: meanFcBlack, red: meanFcRed, xMin: -6.25, xMax: 10.5, ticks: meanFcTicks, minor: meanFcMinor,
      title: [['log', false], ['2', true], [' (mean fold change)', false]], titleDx: 236, rho: rhoLabels[1], rhoDx: 295 },
    { id: 'c3', black: degBlack, red: degRed, xMin: -5, xMax: 5.17, ticks: degTicks, minor: degMinor,
      title: [['log', false], ['2', true], [' (deg fold change)', false]], titleDx: 234, rho: rhoLabels[2], rhoDx: 293 },
    { id: 'c4', black: freqBlack, red: freqRed, xMin: -10, xMax: 6.4, ticks: freqTicks, minor: freqMinor,
      title: [['log ', false], ['2', true], ['(frequency fold change)', false]], titleDx: 206, rho: rhoLabels[3], rhoDx: 292 },
    { id: 'c5', black: burstBlack, red: burstRed, xMin: -10, xMax: 20.6, ticks: burstTicks, minor: burstMinor,
      title: [['log ', false], ['2', true], ['(burst size fold change)', false]], titleDx: 209, rho: rhoLabels[4], rhoDx: 295 },
    { id: 'c6', black: dutyBlack, red: dutyRed, xMin: -4, xMax: 5.26, ticks: dutyTicks, minor: dutyMinor,
      title: [['log ', false], ['2', true], ['(duty cycle fold change)', false]], titleDx: 207, rho: rhoLabels[5], rhoDx: 295 }
];

// draws "log" + small subscript "2" + rest, centred on x, baseline at y
function drawSubText(ctx, parts, x, y, size) {
    const mainFont = size + 'px ' + SANS;
    const subFont = Math.round(size * 0.56) + 'px ' + SANS;
    let total = 0;
    parts.forEach(p => { ctx.font = p[1] ? subFont : mainFont; total += ctx.measureText(p[0]).width; });
    let cur = x - total / 2;
    ctx.textAlign = 'left';
    ctx.textBaseline = 'alphabetic';
    parts.forEach(p => {
        ctx.font = p[1] ? subFont : mainFont;
        ctx.fillText(p[0], cur, p[1] ? y + size * 0.42 : y);
        cur += ctx.measureText(p[0]).width;
    });
}

// Axis arrows, inward ticks, dashed zero lines and the labels
const axesPlugin = {
    id: 'axes',
    beforeDatasetsDraw(chart) {
        const { ctx, chartArea: a, scales: { x, y } } = chart;
        const cfg = chart.options.plugins.axes;
        ctx.save();
        ctx.strokeStyle = '#8c8c8c';
        ctx.lineWidth = 2;
        ctx.setLineDash([16, 9]);
        ctx.beginPath();
        ctx.moveTo(a.left, y.getPixelForValue(0));
        ctx.lineTo(a.right - 20, y.getPixelForValue(0));
        ctx.moveTo(x.getPixelForValue(0), a.bottom);
        ctx.lineTo(x.getPixelForValue(0), y.getPixelForValue(1.42));
        ctx.stroke();
        ctx.setLineDash([]);
        ctx.strokeStyle = '#444';
        ctx.lineWidth = 1.5;
        ctx.beginPath();
        cfg.minor.forEach(v => {
            const px = x.getPixelForValue(v);
            ctx.moveTo(px, a.bottom);
            ctx.lineTo(px, a.bottom - 9);
        });
        yMinor.forEach(v => {
            const py = y.getPixelForValue(v);
            ctx.moveTo(a.left, py);
            ctx.lineTo(a.left + 9, py);
        });
        ctx.stroke();
        ctx.restore();
    },
    afterDraw(chart) {
        const { ctx, chartArea: a } = chart;
        const cfg = chart.options.plugins.axes;
        ctx.save();
        ctx.strokeStyle = '#000';
        ctx.fillStyle = '#000';
        ctx.lineWidth = 3.5;
        ctx.beginPath();
        ctx.moveTo(a.left, a.bottom + 1.75);
        ctx.lineTo(a.left, a.top + 20);
        ctx.moveTo(a.left - 1.75, a.bottom);
        ctx.lineTo(a.right - 20, a.bottom);
        ctx.stroke();
        ctx.beginPath();
        ctx.moveTo(a.left, a.top);
        ctx.lineTo(a.left - 12.5, a.top + 34);
        ctx.lineTo(a.left + 12.5, a.top + 34);
        ctx.closePath();
        ctx.moveTo(a.right, a.bottom);
        ctx.lineTo(a.right - 34, a.bottom - 12.5);
        ctx.lineTo(a.right - 34, a.bottom + 12.5);
        ctx.closePath();
        ctx.fill();

        drawSubText(ctx, cfg.title, a.left + cfg.titleDx, a.bottom + 80, 40);
        ctx.save();
        ctx.translate(a.left - 60, a.top + 258);
        ctx.rotate(-Math.PI / 2);
        drawSubText(ctx, yTitle, 0, 0, 41);
        ctx.restore();

        ctx.font = '39px ' + RHO_FONT;
        ctx.textAlign = 'left';
        ctx.textBaseline = 'alphabetic';
        ctx.fillText(cfg.rho, a.left + cfg.rhoDx, a.bottom - 21);
        ctx.restore();
    }
};

// keep the plot area fixed: no extra room for end labels
function fixPadding(s) {
    s.paddingLeft = 0;
    s.paddingRight = 0;
    s.paddingTop = 0;
    s.paddingBottom = 0;
}

panels.forEach(p => {
    const ctx = document.getElementById(p.id).getContext('2d');
    new Chart(ctx, {
        type: 'scatter',
        data: {
            datasets: [{
                data: p.black,
                backgroundColor: 'rgba(0, 0, 0, 0.58)',
                borderColor: 'rgba(0, 0, 0, 0.58)',
                borderWidth: 1,
                pointRadius: 5
            }, {
                data: p.red,
                backgroundColor: 'rgba(255, 0, 0, 0.52)',
                borderColor: 'rgba(230, 0, 0, 0.52)',
                borderWidth: 1,
                pointRadius: 5
            }]
        },
        options: {
            responsive: false,
            animation: false,
            devicePixelRatio: 1,
            layout: { padding: { top: 5, right: 44, left: 0, bottom: 0 } },
            plugins: {
                legend: { display: false },
                tooltip: { enabled: false },
                axes: { minor: p.minor, title: p.title, titleDx: p.titleDx, rho: p.rho, rhoDx: p.rhoDx }
            },
            scales: {
                x: {
                    type: 'linear',
                    min: p.xMin,
                    max: p.xMax,
                    grid: { display: false, drawTicks: false },
                    border: { display: false },
                    ticks: { color: '#000', font: { family: SANS, size: 37 }, padding: 8, maxRotation: 0, autoSkip: false },
                    afterBuildTicks: s => { s.ticks = p.ticks.map(v => ({ value: v })); },
                    afterFit: s => { s.height = 99; fixPadding(s); }
                },
                y: {
                    type: 'linear',
                    min: -2.5,
                    max: 1.6,
                    grid: { display: false, drawTicks: false },
                    border: { display: false },
                    ticks: { color: '#000', font: { family: SANS, size: 37 }, padding: 12, autoSkip: false },
                    afterBuildTicks: s => { s.ticks = yTicks.map(v => ({ value: v })); },
                    afterFit: s => { s.width = 103; fixPadding(s); }
                }
            }
        },
        plugins: [axesPlugin]
    });
});
</script>
</body>
</html>
